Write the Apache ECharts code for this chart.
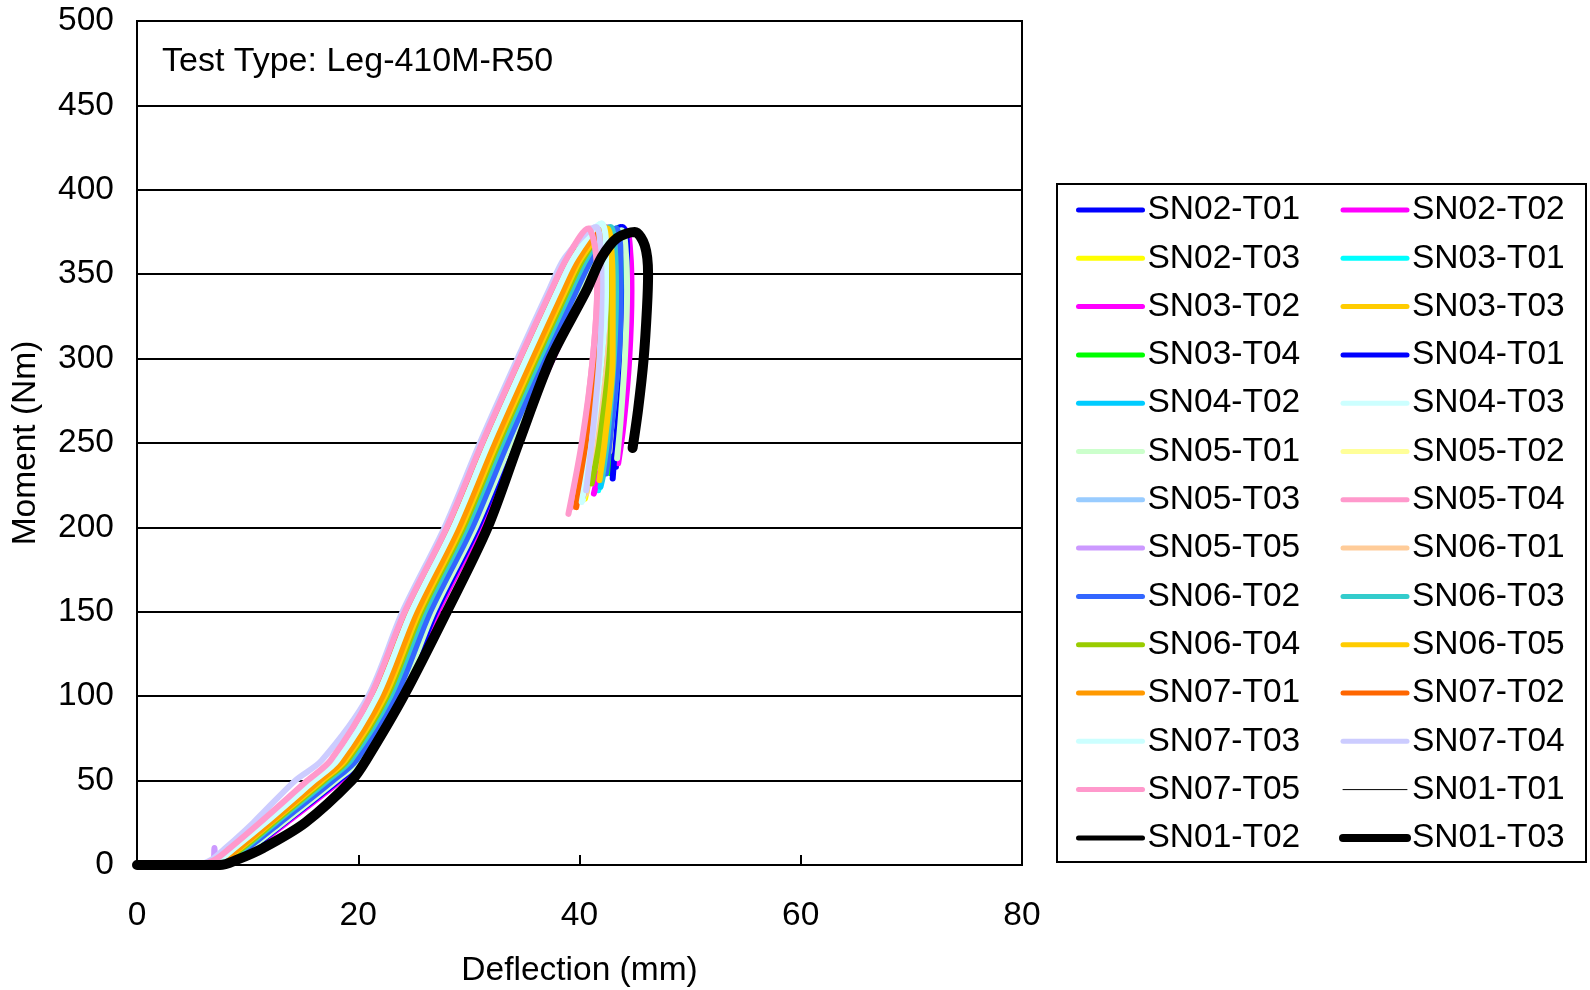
<!DOCTYPE html>
<html>
<head>
<meta charset="utf-8">
<script src="https://cdn.jsdelivr.net/npm/echarts@6/dist/echarts.min.js"></script>
<style>
html,body{margin:0;padding:0;background:#fff;}
#chart{width:1590px;height:990px;}
</style>
</head>
<body>
<div id="chart"></div>
<script>
// ---- Data ----
const xTicks = [0, 20, 40, 60, 80];
const yTicks = [0, 50, 100, 150, 200, 250, 300, 350, 400, 450, 500];
const annotation = 'Test Type: Leg-410M-R50';
const xName = 'Deflection (mm)';
const yName = 'Moment (Nm)';

// Moment levels (Nm) shared by the loading branch of every curve
const loadMoment = [0, 0, 3, 10, 25, 50, 62, 100, 150, 200, 250, 300, 340, 360];

// Deflection (mm) at each loading moment level, and the peak + unloading branch [deflection, moment]
const L_SN02_T01 = [0, 6.9, 8.6, 10.3, 13.3, 18.1, 20.2, 23.8, 26.9, 30.7, 33.9, 37.3, 40.1, 41.6];
const U_SN02_T01 = [[43.7,378],[44.1,368],[44.1,350],[43.8,300],[43.4,260],[43.3,236]];
const L_SN02_T02 = [0, 7.0, 8.8, 10.5, 13.5, 18.4, 20.5, 24.1, 27.2, 31.0, 34.2, 37.6, 40.4, 41.9];
const U_SN02_T02 = [[44.2,376],[44.6,362],[44.7,340],[44.5,300],[44.0,262],[43.5,238]];
const L_SN02_T03 = [0, 6.3, 8.0, 9.5, 12.4, 17.0, 19.1, 22.7, 25.8, 29.6, 32.8, 36.2, 39.0, 40.5];
const U_SN02_T03 = [[42.3,377],[42.7,362],[42.7,340],[42.4,300],[41.5,250],[40.5,217]];
const L_SN03_T01 = [0, 6.7, 8.4, 10.1, 13.0, 17.8, 19.9, 23.5, 26.6, 30.4, 33.6, 37.0, 39.8, 41.3];
const U_SN03_T01 = [[43.0,377],[43.4,362],[43.5,340],[43.3,300],[42.4,250],[41.7,222]];
const L_SN03_T02 = [0, 7.0, 8.7, 10.4, 13.4, 18.3, 20.4, 24.0, 27.1, 30.9, 34.1, 37.5, 40.3, 41.8];
const U_SN03_T02 = [[43.6,376],[43.9,360],[43.9,340],[43.5,300],[42.3,250],[41.3,220]];
const L_SN03_T03 = [0, 6.1, 7.7, 9.2, 12.1, 16.6, 18.7, 22.3, 25.4, 29.2, 32.4, 35.8, 38.6, 40.1];
const U_SN03_T03 = [[42.4,378],[42.9,362],[43.0,340],[42.9,300],[42.3,255],[42.0,230]];
const L_SN03_T04 = [0, 6.6, 8.3, 9.9, 12.9, 17.6, 19.7, 23.3, 26.4, 30.2, 33.4, 36.8, 39.6, 41.1];
const U_SN03_T04 = [[43.4,377],[43.8,362],[43.9,340],[43.8,300],[43.2,255],[42.8,232]];
const L_SN04_T01 = [0, 6.9, 8.7, 10.4, 13.3, 18.2, 20.3, 23.9, 27.0, 30.8, 34.0, 37.4, 40.2, 41.7];
const U_SN04_T01 = [[43.9,378],[44.3,366],[44.2,340],[43.9,300],[43.3,255],[43.0,229]];
const L_SN04_T02 = [0, 6.8, 8.5, 10.2, 13.1, 17.9, 20.0, 23.6, 26.7, 30.5, 33.7, 37.1, 39.9, 41.4];
const U_SN04_T02 = [[43.3,377],[43.7,362],[43.7,340],[43.5,300],[42.7,250],[41.9,224]];
const L_SN04_T03 = [0, 5.9, 7.4, 8.9, 11.7, 16.1, 18.2, 21.8, 24.9, 28.7, 31.9, 35.3, 38.1, 39.6];
const U_SN04_T03 = [[42.0,380],[42.4,366],[42.5,340],[42.1,300],[41.2,250],[40.3,216]];
const L_SN05_T01 = [0, 6.8, 8.6, 10.2, 13.2, 18.0, 20.1, 23.7, 26.8, 30.6, 33.8, 37.2, 40.0, 41.5];
const U_SN05_T01 = [[43.8,376],[44.2,362],[44.3,340],[44.1,300],[43.7,262],[43.4,241]];
const L_SN05_T02 = [0, 6.5, 8.1, 9.7, 12.6, 17.3, 19.4, 23.0, 26.1, 29.9, 33.1, 36.5, 39.3, 40.8];
const U_SN05_T02 = [[43.0,376],[43.4,362],[43.5,340],[43.3,300],[42.9,262],[42.7,245]];
const L_SN05_T03 = [0, 5.7, 7.2, 8.7, 11.4, 15.8, 17.9, 21.5, 24.6, 28.4, 31.6, 35.0, 37.8, 39.3];
const U_SN05_T03 = [[41.5,378],[41.9,365],[42.0,340],[41.7,300],[40.9,250],[40.2,222]];
const L_SN05_T04 = [0, 5.6, 7.1, 8.5, 11.2, 15.5, 17.6, 21.2, 24.3, 28.1, 31.3, 34.7, 37.5, 39.0];
const U_SN05_T04 = [[41.0,377],[41.5,366],[41.6,340],[41.2,300],[40.3,250],[39.3,212]];
const L_SN05_T05 = [0, 5.8, 7.3, 8.8, 11.5, 15.9, 18.0, 21.6, 24.7, 28.5, 31.7, 35.1, 37.9, 39.4];
const U_SN05_T05 = [[42.6,378],[43.0,364],[43.0,340],[42.7,300],[42.0,255],[41.5,235]];
const S_SN05_T05 = [[6.9,1],[7.0,10],[7.1,2]]; // small spike near the start
const L_SN06_T01 = [0, 6.0, 7.6, 9.1, 11.9, 16.4, 18.5, 22.1, 25.2, 29.0, 32.2, 35.6, 38.4, 39.9];
const U_SN06_T01 = [[42.2,377],[42.6,363],[42.8,340],[42.3,300],[41.4,250],[40.6,220]];
const L_SN06_T02 = [0, 6.7, 8.4, 10.0, 12.9, 17.7, 19.8, 23.4, 26.5, 30.3, 33.5, 36.9, 39.7, 41.2];
const U_SN06_T02 = [[43.3,377],[43.7,363],[43.7,340],[43.5,300],[42.8,255],[42.4,232]];
const L_SN06_T03 = [0, 6.4, 8.1, 9.7, 12.5, 17.2, 19.3, 22.9, 26.0, 29.8, 33.0, 36.4, 39.2, 40.7];
const U_SN06_T03 = [[42.8,378],[43.2,364],[43.3,340],[43.1,300],[42.5,252],[42.0,228]];
const L_SN06_T04 = [0, 6.3, 7.9, 9.5, 12.3, 16.9, 19.0, 22.6, 25.7, 29.5, 32.7, 36.1, 38.9, 40.4];
const U_SN06_T04 = [[42.4,377],[42.8,363],[42.9,340],[42.7,300],[41.8,250],[41.1,226]];
const L_SN06_T05 = [0, 6.2, 7.8, 9.3, 12.1, 16.7, 18.8, 22.4, 25.5, 29.3, 32.5, 35.9, 38.7, 40.2];
const U_SN06_T05 = [[42.5,377],[42.9,363],[43.0,340],[43.0,300],[42.3,252],[41.8,228]];
const L_SN07_T01 = [0, 6.1, 7.7, 9.2, 12.0, 16.5, 18.6, 22.2, 25.3, 29.1, 32.3, 35.7, 38.5, 40.0];
const U_SN07_T01 = [[42.0,376],[42.3,362],[42.3,340],[42.0,300],[41.0,250],[40.3,218]];
const L_SN07_T02 = [0, 5.7, 7.2, 8.6, 11.3, 15.7, 17.8, 21.4, 24.5, 28.3, 31.5, 34.9, 37.7, 39.2];
const U_SN07_T02 = [[41.3,376],[41.8,362],[41.9,340],[41.5,300],[40.6,250],[39.7,212]];
const L_SN07_T03 = [0, 5.8, 7.4, 8.8, 11.6, 16.0, 18.1, 21.7, 24.8, 28.6, 31.8, 35.2, 38.0, 39.5];
const U_SN07_T03 = [[42.0,380],[42.4,366],[42.4,340],[42.0,300],[41.1,250],[40.2,215]];
const L_SN07_T04 = [0, 5.4, 6.7, 8.0, 10.5, 14.3, 16.7, 20.9, 24.0, 27.8, 31.0, 34.4, 37.2, 38.7];
const U_SN07_T04 = [[41.5,378],[41.9,364],[42.0,340],[41.8,300],[41.1,250],[40.6,222]];
const L_SN07_T05 = [0, 5.5, 7.0, 8.4, 11.1, 15.4, 17.5, 21.1, 24.2, 28.0, 31.2, 34.6, 37.4, 38.9];
const U_SN07_T05 = [[40.8,377],[41.4,366],[41.6,345],[41.2,300],[40.2,250],[39.0,208]];
const L_SN01_T01 = [0, 7.5, 9.0, 11.4, 15.2, 19.4, 20.7, 24.1, 28.0, 31.7, 34.5, 37.4, 40.6, 42.0];
const U_SN01_T01 = [[43.4,371],[45.0,375],[45.9,367],[46.2,350],[46.1,330],[45.8,300],[45.3,270],[44.8,248]];
const L_SN01_T02 = [0, 7.4, 8.9, 11.3, 15.1, 19.3, 20.6, 24.0, 27.9, 31.6, 34.4, 37.3, 40.5, 41.9];
const U_SN01_T02 = [[43.3,371],[44.9,374],[45.8,366],[46.1,350],[46.0,330],[45.7,300],[45.2,270],[44.8,249]];
const L_SN01_T03 = [0, 7.5, 9.0, 11.4, 15.2, 19.4, 20.7, 24.1, 28.0, 31.7, 34.5, 37.4, 40.6, 42.0];
const U_SN01_T03 = [[43.4,371.5],[45.0,375],[45.9,367],[46.2,350],[46.1,330],[45.8,300],[45.3,270],[44.8,247]];

const seriesNames = ['SN02-T01','SN02-T02','SN02-T03','SN03-T01','SN03-T02','SN03-T03','SN03-T04','SN04-T01',
  'SN04-T02','SN04-T03','SN05-T01','SN05-T02','SN05-T03','SN05-T04','SN05-T05','SN06-T01','SN06-T02','SN06-T03',
  'SN06-T04','SN06-T05','SN07-T01','SN07-T02','SN07-T03','SN07-T04','SN07-T05','SN01-T01','SN01-T02','SN01-T03'];
const seriesColors = ['#0000FF','#FF00FF','#FFFF00','#00FFFF','#FF00FF','#FFCC00','#00FF00','#0000FF',
  '#00CCFF','#CCFFFF','#CCFFCC','#FFFF99','#99CCFF','#FF99CC','#CC99FF','#FFCC99','#3366FF','#33CCCC',
  '#99CC00','#FFCC00','#FF9900','#FF6600','#CCFFFF','#CCCCFF','#FF99CC','#000000','#000000','#000000'];
const seriesWidths = [6,6,6,6,6,6,6,6,6,6,6,6,6,6,6,6,6,6,6,6,6,6,6,6,6,1,5,10];
const legendWidths = [5,5,5,5,5,5,5,5,5,5,5,5,5,5,5,5,5,5,5,5,5,5,5,5,5,1,5,8];
const loadBranches = [L_SN02_T01,L_SN02_T02,L_SN02_T03,L_SN03_T01,L_SN03_T02,L_SN03_T03,L_SN03_T04,L_SN04_T01,
  L_SN04_T02,L_SN04_T03,L_SN05_T01,L_SN05_T02,L_SN05_T03,L_SN05_T04,L_SN05_T05,L_SN06_T01,L_SN06_T02,L_SN06_T03,
  L_SN06_T04,L_SN06_T05,L_SN07_T01,L_SN07_T02,L_SN07_T03,L_SN07_T04,L_SN07_T05,L_SN01_T01,L_SN01_T02,L_SN01_T03];
const unloadBranches = [U_SN02_T01,U_SN02_T02,U_SN02_T03,U_SN03_T01,U_SN03_T02,U_SN03_T03,U_SN03_T04,U_SN04_T01,
  U_SN04_T02,U_SN04_T03,U_SN05_T01,U_SN05_T02,U_SN05_T03,U_SN05_T04,U_SN05_T05,U_SN06_T01,U_SN06_T02,U_SN06_T03,
  U_SN06_T04,U_SN06_T05,U_SN07_T01,U_SN07_T02,U_SN07_T03,U_SN07_T04,U_SN07_T05,U_SN01_T01,U_SN01_T02,U_SN01_T03];

// ---- Build series ----
const FONT = 'Liberation Sans, Arial, Helvetica, sans-serif';
const series = seriesNames.map((name, i) => {
  const pts = [];
  loadBranches[i].forEach((x, k) => {
    pts.push([x, loadMoment[k]]);
    if (name === 'SN05-T05' && k === 1) S_SN05_T05.forEach(p => pts.push(p));
  });
  unloadBranches[i].forEach(p => pts.push(p));
  return {
    name: name,
    type: 'line',
    data: pts,
    symbol: 'none',
    smooth: 0.3,
    clip: true,
    lineStyle: { color: seriesColors[i], width: seriesWidths[i], cap: 'round', join: 'round' },
    itemStyle: { color: seriesColors[i] },
    emphasis: { disabled: true }
  };
});

const legendItem = (n) => {
  const i = seriesNames.indexOf(n);
  return { name: n, lineStyle: { width: legendWidths[i] } };
};
const leftNames = seriesNames.filter((n, i) => i % 2 === 0).map(legendItem);
const rightNames = seriesNames.filter((n, i) => i % 2 === 1).map(legendItem);
const legendCommon = {
  orient: 'vertical',
  top: 193,
  itemWidth: 64,
  itemHeight: 14,
  itemGap: 14.3,
  padding: 0,
  selectedMode: false,
  textStyle: { fontFamily: FONT, fontSize: 33.5, color: '#000', lineHeight: 33 },
  lineStyle: { width: 'inherit' },
  itemStyle: { opacity: 0 }
};

const chart = echarts.init(document.getElementById('chart'), null, { renderer: 'canvas' });
chart.setOption({
  animation: false,
  backgroundColor: '#fff',
  title: {
    text: annotation, left: 162, top: 45, padding: 0,
    textStyle: { fontFamily: FONT, fontSize: 34, fontWeight: 'normal', color: '#000' }
  },
  grid: { left: 137, right: 568, top: 21, bottom: 125, containLabel: false, outerBoundsMode: 'none',
          show: true, borderColor: '#000', borderWidth: 2, backgroundColor: '#fff' },
  legend: [
    Object.assign({}, legendCommon, { left: 1076, data: leftNames }),
    Object.assign({}, legendCommon, { left: 1339, data: rightNames })
  ],
  graphic: [{
    type: 'rect', left: 1056, top: 183, z: -1,
    shape: { width: 529, height: 678 },
    style: { fill: '#fff', stroke: '#000', lineWidth: 2 }
  }],
  xAxis: {
    type: 'value', min: xTicks[0], max: xTicks[xTicks.length - 1], interval: 20,
    name: xName, nameLocation: 'middle', nameGap: 89,
    nameTextStyle: { fontFamily: FONT, fontSize: 33.5, color: '#000' },
    axisLine: { show: true, lineStyle: { color: '#000', width: 2 } },
    axisTick: { show: true, inside: true, length: 10, lineStyle: { color: '#000', width: 2 } },
    axisLabel: { fontFamily: FONT, fontSize: 33.5, color: '#000', margin: 34 },
    splitLine: { show: false }
  },
  yAxis: {
    type: 'value', min: yTicks[0], max: yTicks[yTicks.length - 1], interval: 50,
    name: yName, nameLocation: 'middle', nameGap: 94,
    nameTextStyle: { fontFamily: FONT, fontSize: 33.5, color: '#000' },
    axisLine: { show: true, lineStyle: { color: '#000', width: 2 } },
    axisTick: { show: false },
    axisLabel: { fontFamily: FONT, fontSize: 33.5, color: '#000', margin: 23 },
    splitLine: { show: true, lineStyle: { color: '#000', width: 2 } }
  },
  series: series
});
</script>
</body>
</html>
